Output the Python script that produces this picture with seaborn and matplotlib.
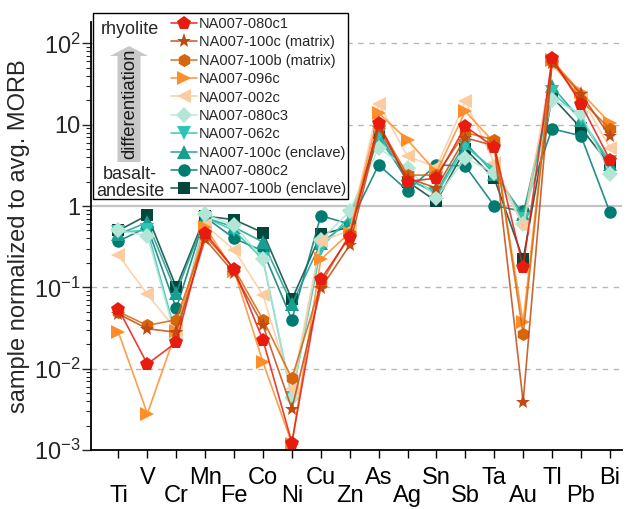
import numpy as np
import pandas as pd
import seaborn as sns
import matplotlib
matplotlib.use("Agg")
import matplotlib.pyplot as plt
from matplotlib.lines import Line2D
from matplotlib.patches import Rectangle, FancyArrow
from matplotlib.ticker import LogLocator, NullFormatter
from matplotlib.colors import to_rgba

elements = ["Ti", "V", "Cr", "Mn", "Fe", "Co", "Ni", "Cu", "Zn", "As",
            "Ag", "Sn", "Sb", "Ta", "Au", "Tl", "Pb", "Bi"]

samples = ["NA007-080c1", "NA007-100c (matrix)", "NA007-100b (matrix)",
           "NA007-096c", "NA007-002c", "NA007-080c3", "NA007-062c",
           "NA007-100c (enclave)", "NA007-080c2", "NA007-100b (enclave)"]

v_080c1 = [0.054, 0.0114, 0.021, 0.47, 0.166, 0.0225, 0.00123, 0.125, 0.42, 10.5,
           2.0, 2.2, 9.5, 5.3, 0.178, 66, 18, 3.7]
v_100c_matrix = [0.047, 0.031, 0.028, 0.39, 0.15, 0.034, 0.0032, 0.097, 0.33, 9.0,
                 2.2, 1.67, 6.9, 5.5, 0.0039, 58, 24, 7.2]
v_100b_matrix = [0.05, 0.034, 0.040, 0.43, 0.17, 0.040, 0.0076, 0.11, 0.45, 10.0,
                 2.4, 2.4, 8.0, 6.5, 0.0265, 60, 20, 8.9]
v_096c = [0.028, 0.0028, 0.029, 0.55, 0.16, 0.012, 0.0012, 0.22, 0.47, 13.9,
          6.5, 2.6, 14.6, 6.0, 0.037, 62, 25, 10.5]
v_002c = [0.247, 0.082, 0.030, 0.58, 0.29, 0.08, 0.0056, 0.37, 0.5, 18.1,
          4.1, 3.0, 19.3, 3.4, 0.57, 54, 22, 5.2]
v_080c3 = [0.50, 0.43, 0.023, 0.79, 0.58, 0.225, 0.0044, 0.38, 0.86, 5.2,
           2.9, 1.26, 3.9, 2.55, 0.6, 20.3, 13.9, 2.5]
v_062c = [0.48, 0.50, 0.025, 0.72, 0.50, 0.22, 0.0044, 0.30, 0.75, 7.5,
          2.2, 1.4, 5.4, 2.8, 0.7, 25, 12, 3.5]
v_100c_enclave = [0.45, 0.63, 0.086, 0.72, 0.55, 0.36, 0.062, 0.35, 0.65, 7.0,
                  2.1, 1.5, 6.0, 2.5, 0.79, 29.5, 11.5, 3.3]
v_080c2 = [0.37, 0.55, 0.055, 0.73, 0.40, 0.28, 0.040, 0.76, 0.6, 3.2,
           1.55, 3.2, 3.1, 1.01, 0.86, 8.9, 7.3, 0.84]
v_100b_enclave = [0.50, 0.77, 0.10, 0.75, 0.68, 0.47, 0.071, 0.45, 0.55, 8.0,
                  2.0, 1.14, 5.0, 2.2, 0.22, 22, 9.1, 3.2]

series = [v_080c1, v_100c_matrix, v_100b_matrix, v_096c, v_002c, v_080c3,
          v_062c, v_100c_enclave, v_080c2, v_100b_enclave]

colors = ["#e81c0e", "#c04b12", "#d6650c", "#ff8d2a", "#fdcba0",
          "#b3e6d4", "#2cc5b5", "#17a090", "#007b72", "#03463c"]
markers = ["p", "*", "h", ">", "<", "D", "v", "^", "o", "s"]
msizes = [10, 11, 9.5, 9.5, 9.5, 8, 9.5, 9.5, 9, 8]

ytick_vals = [1e-3, 1e-2, 1e-1, 1, 10, 100]
ytick_labels = ["10$^{-3}$", "10$^{-2}$", "10$^{-1}$", "1", "10", "10$^{2}$"]

rows = []
for s, vals in zip(samples, series):
    for i, v in enumerate(vals):
        rows.append({"sample": s, "x": i, "value": v})
df = pd.DataFrame(rows)

sns.set_style("ticks")
plt.rcParams["font.family"] = ["Liberation Sans", "DejaVu Sans"]
plt.rcParams["mathtext.fontset"] = "custom"
plt.rcParams["mathtext.rm"] = "Liberation Sans"
plt.rcParams["mathtext.default"] = "regular"

W, H = 626, 509
fig = plt.figure(figsize=(W / 100, H / 100), dpi=100)
ax = fig.add_axes([91 / W, 1 - 450 / H, (622 - 91) / W, (450 - 22) / H])
ax.set_yscale("log")

# reference lines
for v in [1e-2, 1e-1, 10, 100]:
    ax.axhline(v, color="#b8b8b8", lw=1.0, ls=(0, (4, 4)), zorder=0)
ax.axhline(1, color="#c4c4c4", lw=1.6, zorder=0)

pal = dict(zip(samples, colors))
mk = dict(zip(samples, markers))
draw_order = samples[::-1]
sns.lineplot(data=df, x="x", y="value", hue="sample", style="sample",
             hue_order=draw_order, style_order=draw_order, palette=pal,
             markers=mk, dashes=False, sort=False, estimator=None,
             lw=1.2, markersize=9, markeredgewidth=0, ax=ax, legend=False)

size_map = dict(zip(samples, msizes))
for line, s in zip(ax.lines[-len(samples):], draw_order):
    c = pal[s]
    line.set_color(to_rgba(c, 0.85))
    line.set_markerfacecolor(c)
    line.set_markeredgecolor(c)
    line.set_markersize(size_map[s])

ax.set_xlim(-0.95, 17.42)
ax.set_ylim(1e-3, 183)

even = list(range(0, len(elements), 2))
odd = list(range(1, len(elements), 2))
ax.set_xticks(even)
ax.set_xticklabels([elements[i] for i in even])
ax.set_xticks(odd, minor=True)
ax.set_xticklabels([elements[i] for i in odd], minor=True)
ax.tick_params(axis="x", which="major", length=6, width=1, pad=19.5,
               labelsize=17, direction="out", colors="black")
ax.tick_params(axis="x", which="minor", length=6, width=1, pad=6.5,
               labelsize=17, direction="out", colors="black")

ax.set_yticks(ytick_vals)
ax.set_yticklabels(ytick_labels)
ax.yaxis.set_minor_locator(LogLocator(base=10, subs=np.arange(2, 10)))
ax.yaxis.set_minor_formatter(NullFormatter())
ax.tick_params(axis="y", which="major", length=6.5, width=1, pad=1,
               labelsize=17, direction="out")
ax.tick_params(axis="y", which="minor", length=3.5, width=0.8, direction="out")

ax.set_xlabel("")
ax.set_ylabel("sample normalized to avg. MORB", fontsize=17, labelpad=3)

for sp in ["top", "right"]:
    ax.spines[sp].set_visible(False)
for sp in ["left", "bottom"]:
    ax.spines[sp].set_linewidth(1.3)
    ax.spines[sp].set_color("black")

# legend box
def fx(px):
    return px / W

def fy(py):
    return 1 - py / H

box = Rectangle((fx(93), fy(199)), fx(348) - fx(93), fy(12.7) - fy(199),
                transform=fig.transFigure, facecolor="white",
                edgecolor="black", lw=1.0, zorder=5)
fig.add_artist(box)

arrow = FancyArrow(1.29, (H - 162) / 100, 0, (162 - 46) / 100, width=0.23,
                   head_width=0.38, head_length=0.10, length_includes_head=True,
                   transform=fig.dpi_scale_trans, color="#c8c8c8", lw=0,
                   zorder=6)
fig.add_artist(arrow)

fig.text(fx(130), fy(33.5), "rhyolite", fontsize=13, ha="center",
         va="baseline", zorder=7)
fig.text(fx(130), fy(179), "basalt-", fontsize=13, ha="center",
         va="baseline", zorder=7)
fig.text(fx(130), fy(196), "andesite", fontsize=13, ha="center",
         va="baseline", zorder=7)
fig.text(fx(130), fy(104), "differentiation", fontsize=13.3, ha="center",
         va="center", rotation=90, color="#1a1a1a", zorder=7)

handles = []
for s in samples:
    handles.append(Line2D([0], [0], color=to_rgba(pal[s], 0.85), lw=1.2,
                          marker=mk[s], markersize=size_map[s],
                          markerfacecolor=pal[s], markeredgecolor=pal[s],
                          markeredgewidth=0))
leg = fig.legend(handles, samples, loc="upper left",
                 bbox_to_anchor=(fx(171), fy(17)), bbox_transform=fig.transFigure,
                 frameon=False, fontsize=10.5, handlelength=1.75,
                 handletextpad=0.15, borderpad=0, borderaxespad=0,
                 labelspacing=0.3)
leg.set_zorder(8)

fig.savefig("out.png", dpi=100)
